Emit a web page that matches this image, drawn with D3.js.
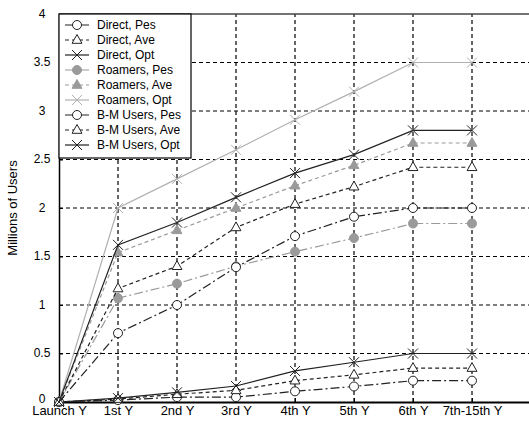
<!DOCTYPE html>
<html>
<head>
<meta charset="utf-8">
<script src="https://cdn.jsdelivr.net/npm/d3@7"></script>
<style>
  body { margin: 0; background: #fff; }
  text { font-family: "Liberation Sans", Arial, sans-serif; }
</style>
</head>
<body>
<div id="chart"></div>
<script>
const width = 529, height = 425;

// Data
const categories = ["Launch Y", "1st Y", "2nd Y", "3rd Y", "4th Y", "5th Y", "6th Y", "7th-15th Y"];
const yTicks = [0, 0.5, 1, 1.5, 2, 2.5, 3, 3.5, 4];

const directPes = [0, 0.02, 0.05, 0.05, 0.11, 0.16, 0.22, 0.22];
const directAve = [0, 0.03, 0.08, 0.12, 0.22, 0.28, 0.35, 0.35];
const directOpt = [0, 0.04, 0.10, 0.165, 0.32, 0.41, 0.50, 0.50];
const roamersPes = [0, 1.07, 1.22, 1.40, 1.55, 1.69, 1.84, 1.84];
const roamersAve = [0, 1.54, 1.77, 2.00, 2.23, 2.44, 2.67, 2.67];
const roamersOpt = [0, 2.00, 2.30, 2.60, 2.91, 3.20, 3.50, 3.50];
const bmPes = [0, 0.71, 1.00, 1.39, 1.71, 1.91, 2.00, 2.00];
const bmAve = [0, 1.17, 1.40, 1.80, 2.04, 2.22, 2.42, 2.42];
const bmOpt = [0, 1.62, 1.85, 2.11, 2.36, 2.55, 2.80, 2.80];

const black = "#222", gray = "#9a9a9a", lightGray = "#b0b0b0";
const dashDot = "9,3,2,3", dashed = "4,3";

const series = [
  { name: "Direct, Pes", values: directPes, color: black, dash: dashDot, marker: "circle", fill: "#fff" },
  { name: "Direct, Ave", values: directAve, color: black, dash: dashed, marker: "triangle", fill: "#fff" },
  { name: "Direct, Opt", values: directOpt, color: black, dash: null, marker: "x", fill: "none" },
  { name: "Roamers, Pes", values: roamersPes, color: gray, dash: dashDot, marker: "circle", fill: gray },
  { name: "Roamers, Ave", values: roamersAve, color: gray, dash: dashed, marker: "triangle", fill: gray },
  { name: "Roamers, Opt", values: roamersOpt, color: lightGray, dash: null, marker: "x", fill: "none" },
  { name: "B-M Users, Pes", values: bmPes, color: black, dash: dashDot, marker: "circle", fill: "#fff" },
  { name: "B-M Users, Ave", values: bmAve, color: black, dash: dashed, marker: "triangle", fill: "#fff" },
  { name: "B-M Users, Opt", values: bmOpt, color: black, dash: null, marker: "x", fill: "none" }
];

const margin = { top: 14, left: 59, bottom: 402 };

const svg = d3.select("#chart").append("svg")
  .attr("width", width)
  .attr("height", height);

// Scales (plot runs past the right edge of the window)
const x = d3.scaleLinear().domain([0, 8]).range([margin.left, margin.left + 8 * 59]);
const y = d3.scaleLinear().domain([0, 4]).range([margin.bottom, margin.top]);

// Grid
const grid = svg.append("g");
grid.selectAll(".vgrid")
  .data(d3.range(1, 9))
  .enter().append("line")
  .attr("x1", d => x(d)).attr("x2", d => x(d))
  .attr("y1", y(0)).attr("y2", y(4))
  .attr("stroke", "#000")
  .attr("stroke-width", 1.2)
  .attr("stroke-dasharray", "4,3");
grid.selectAll(".hgrid")
  .data(yTicks.filter(d => d > 0 && d < 4))
  .enter().append("line")
  .attr("x1", x(0)).attr("x2", width)
  .attr("y1", d => y(d)).attr("y2", d => y(d))
  .attr("stroke", "#000")
  .attr("stroke-width", 1.2)
  .attr("stroke-dasharray", "4,3");

// Axes
svg.append("g")
  .attr("transform", `translate(0,${y(0)})`)
  .call(d3.axisBottom(x).tickValues(d3.range(0, 8)).tickFormat(i => categories[i]).tickSize(-4).tickPadding(4))
  .call(g => g.select(".domain").attr("stroke", "#000").attr("stroke-width", 2))
  .call(g => g.selectAll("text").attr("font-size", 13).attr("fill", "#000").attr("font-family", "Liberation Sans, Arial, sans-serif"));

svg.append("g")
  .attr("transform", `translate(${x(0)},0)`)
  .call(d3.axisLeft(y).tickValues(yTicks).tickFormat(d3.format("")).tickSize(-4).tickPadding(0))
  .call(g => g.select(".domain").attr("stroke", "#000").attr("stroke-width", 1.5))
  .call(g => g.selectAll("text")
    .attr("x", -17)
    .attr("dy", d => d === 0 ? "0.05em" : "0.25em")
    .attr("text-anchor", "middle")
    .attr("font-size", 12).attr("fill", "#000").attr("font-family", "Liberation Sans, Arial, sans-serif"));

// Top border
svg.append("line")
  .attr("x1", x(0)).attr("x2", width)
  .attr("y1", y(4)).attr("y2", y(4))
  .attr("stroke", "#444").attr("stroke-width", 1.5);

// Y label
svg.append("text")
  .attr("transform", "rotate(-90)")
  .attr("x", -(y(0) + y(4)) / 2)
  .attr("y", 17)
  .attr("text-anchor", "middle")
  .attr("font-size", 13)
  .text("Millions of Users");

// Marker helper
function drawMarker(g, s, cx, cy) {
  if (s.marker === "circle") {
    g.append("circle").attr("cx", cx).attr("cy", cy).attr("r", 4.5)
      .attr("fill", s.fill).attr("stroke", s.color).attr("stroke-width", 1);
  } else if (s.marker === "triangle") {
    const r = 5.5;
    g.append("path")
      .attr("d", `M${cx},${cy - r}L${cx + r * 0.9},${cy + r * 0.6}L${cx - r * 0.9},${cy + r * 0.6}Z`)
      .attr("fill", s.fill).attr("stroke", s.color).attr("stroke-width", 1);
  } else {
    const r = 5;
    g.append("path")
      .attr("d", `M${cx - r},${cy - r}L${cx + r},${cy + r}M${cx - r},${cy + r}L${cx + r},${cy - r}`)
      .attr("stroke", s.color).attr("stroke-width", 1);
  }
}

// Lines
const line = d3.line().x((d, i) => x(i)).y(d => y(d));
series.forEach(s => {
  const g = svg.append("g");
  g.append("path")
    .attr("d", line(s.values))
    .attr("fill", "none")
    .attr("stroke", s.color)
    .attr("stroke-width", 1.2)
    .attr("stroke-dasharray", s.dash);
  s.values.forEach((v, i) => drawMarker(g, s, x(i), y(v)));
});

// Legend
const legend = svg.append("g");
legend.append("rect")
  .attr("x", x(0)).attr("y", y(4))
  .attr("width", 132).attr("height", 144)
  .attr("fill", "#fff").attr("stroke", "#000").attr("stroke-width", 1.2);
series.forEach((s, i) => {
  const ly = 25 + i * 15;
  const g = legend.append("g");
  g.append("line")
    .attr("x1", 65).attr("x2", 89)
    .attr("y1", ly).attr("y2", ly)
    .attr("stroke", s.color).attr("stroke-width", 1.2)
    .attr("stroke-dasharray", s.dash ? (s.dash === dashed ? "4,3" : "8,3,2,3") : null);
  drawMarker(g, s, 77, ly);
  g.append("text")
    .attr("x", 97).attr("y", ly + 4)
    .attr("font-size", 12)
    .text(s.name);
});
</script>
</body>
</html>
